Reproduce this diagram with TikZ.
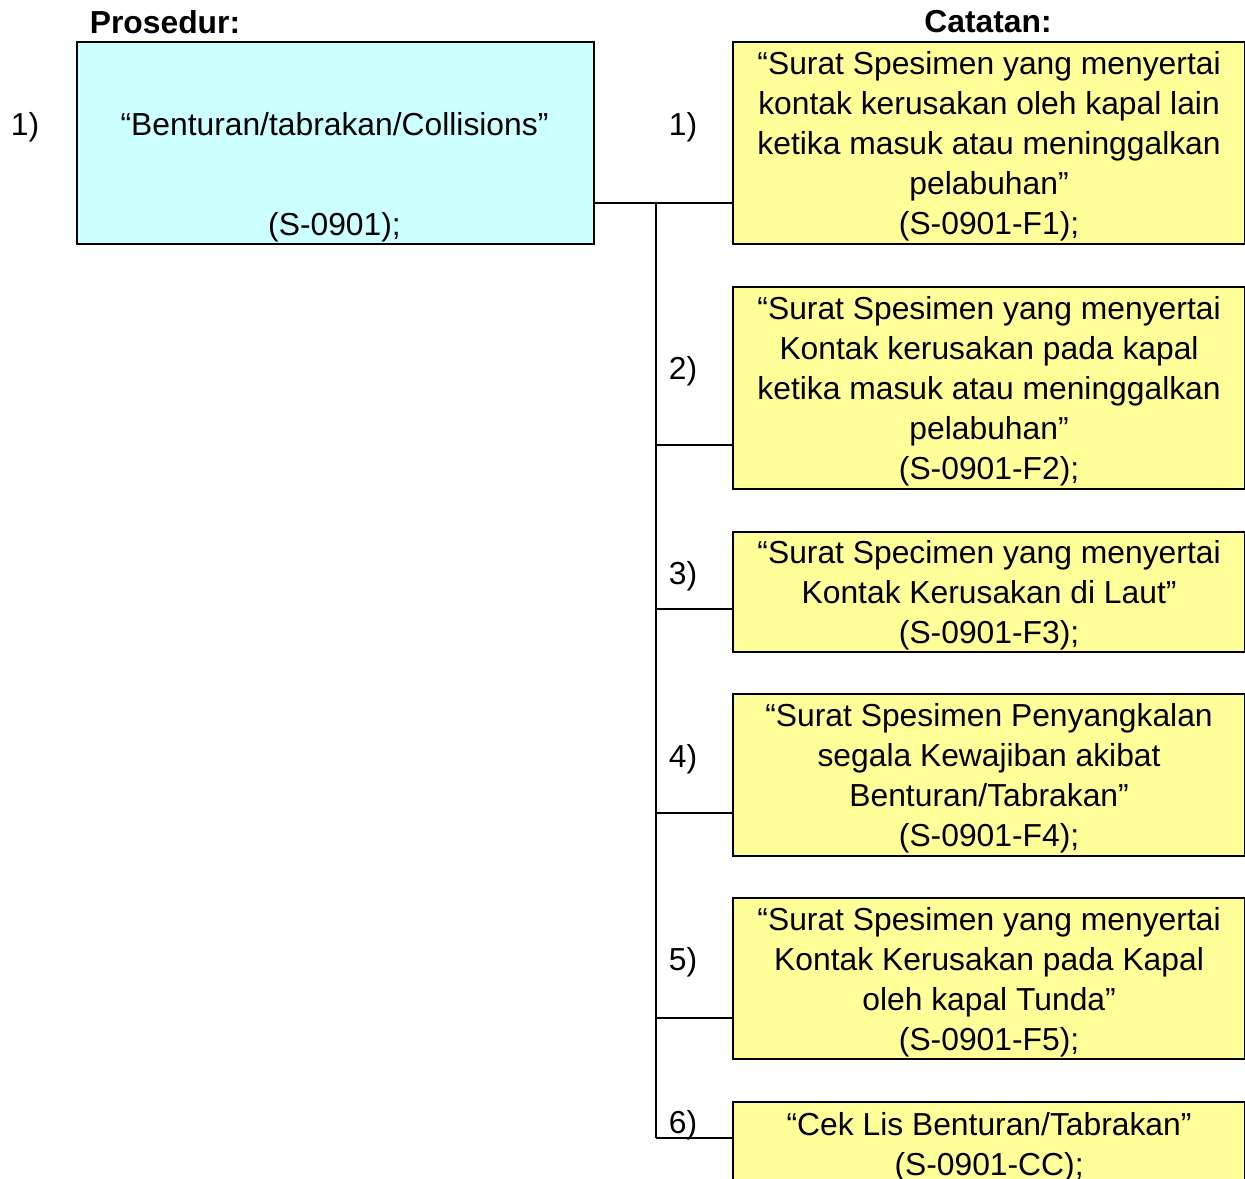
\documentclass[tikz,border=0pt]{standalone}
\usepackage{fontspec}
\setmainfont{Liberation Sans}
\usetikzlibrary{positioning}

\definecolor{proccyan}{HTML}{CCFFFF}
\definecolor{noteyellow}{HTML}{FFFF99}

\tikzset{
  txt/.style={font=\fontsize{9.05}{11.38}\selectfont, inner sep=0pt, align=center},
  head/.style={txt, font=\fontsize{9.05}{11.38}\selectfont\bfseries},
  procbox/.style={draw=black, line width=0.6pt, fill=proccyan, anchor=north west,
                  minimum width=5.17cm, minimum height=2.02cm, inner sep=0pt},
  notebox/.style={txt, draw=black, line width=0.6pt, fill=noteyellow, anchor=north west,
                  minimum width=5.12cm, text depth=0pt},
  link/.style={draw=black, line width=0.6pt}
}

\begin{document}
\begin{tikzpicture}
\useasboundingbox (0,0) rectangle (12.45,-11.78);

% column heads
\node[head] (hproc) at (1.65,-0.22) {Prosedur:};
\node[head] (hnote) at (9.88,-0.22) {Catatan:};

% procedure box
\node[txt] (pnum) at (0.25,-1.27) {1)};
\node[procbox] (proc) at (0.76,-0.41) {};
\node[txt] (ptitle) at (3.345,-1.24) {“Benturan/tabrakan/Collisions”};
\node[txt] (pcode) at (3.345,-2.27) {(S-0901);};

% notes
\node[notebox, minimum height=2.02cm] (note1) at (7.32,-0.41)
  {“Surat Spesimen yang menyertai\\kontak kerusakan oleh kapal lain\\ketika masuk atau meninggalkan\\pelabuhan”\\(S-0901-F1);};
\node[notebox, minimum height=2.02cm] (note2) at (7.32,-2.86)
  {“Surat Spesimen yang menyertai\\Kontak kerusakan pada kapal\\ketika masuk atau meninggalkan\\pelabuhan”\\(S-0901-F2);};
\node[notebox, minimum height=1.20cm] (note3) at (7.32,-5.31)
  {“Surat Specimen yang menyertai\\Kontak Kerusakan di Laut”\\(S-0901-F3);};
\node[notebox, minimum height=1.62cm] (note4) at (7.32,-6.93)
  {“Surat Spesimen Penyangkalan\\segala Kewajiban akibat\\Benturan/Tabrakan”\\(S-0901-F4);};
\node[notebox, minimum height=1.61cm] (note5) at (7.32,-8.97)
  {“Surat Spesimen yang menyertai\\Kontak Kerusakan pada Kapal\\oleh kapal Tunda”\\(S-0901-F5);};
\node[notebox, minimum height=0.84cm] (note6) at (7.32,-11.01)
  {“Cek Lis Benturan/Tabrakan”\\(S-0901-CC);};

% numbers beside the notes
\node[txt] (n1) at (6.83,-1.27) {1)};
\node[txt] (n2) at (6.83,-3.71) {2)};
\node[txt] (n3) at (6.83,-5.76) {3)};
\node[txt] (n4) at (6.83,-7.59) {4)};
\node[txt] (n5) at (6.83,-9.62) {5)};
\node[txt] (n6) at (6.83,-11.25) {6)};

% branch points on the trunk
\coordinate (j1) at (6.56,-2.03);
\coordinate (j2) at (6.56,-4.45);
\coordinate (j3) at (6.56,-6.09);
\coordinate (j4) at (6.56,-8.13);
\coordinate (j5) at (6.56,-10.18);
\coordinate (j6) at (6.56,-11.38);

\draw[link] (proc.east |- j1) -- (note1.west |- j1);
\draw[link] (j1) -- (j6);
\foreach \i in {2,...,6}
  \draw[link] (j\i) -- (note\i.west |- j\i);

\end{tikzpicture}
\end{document}
